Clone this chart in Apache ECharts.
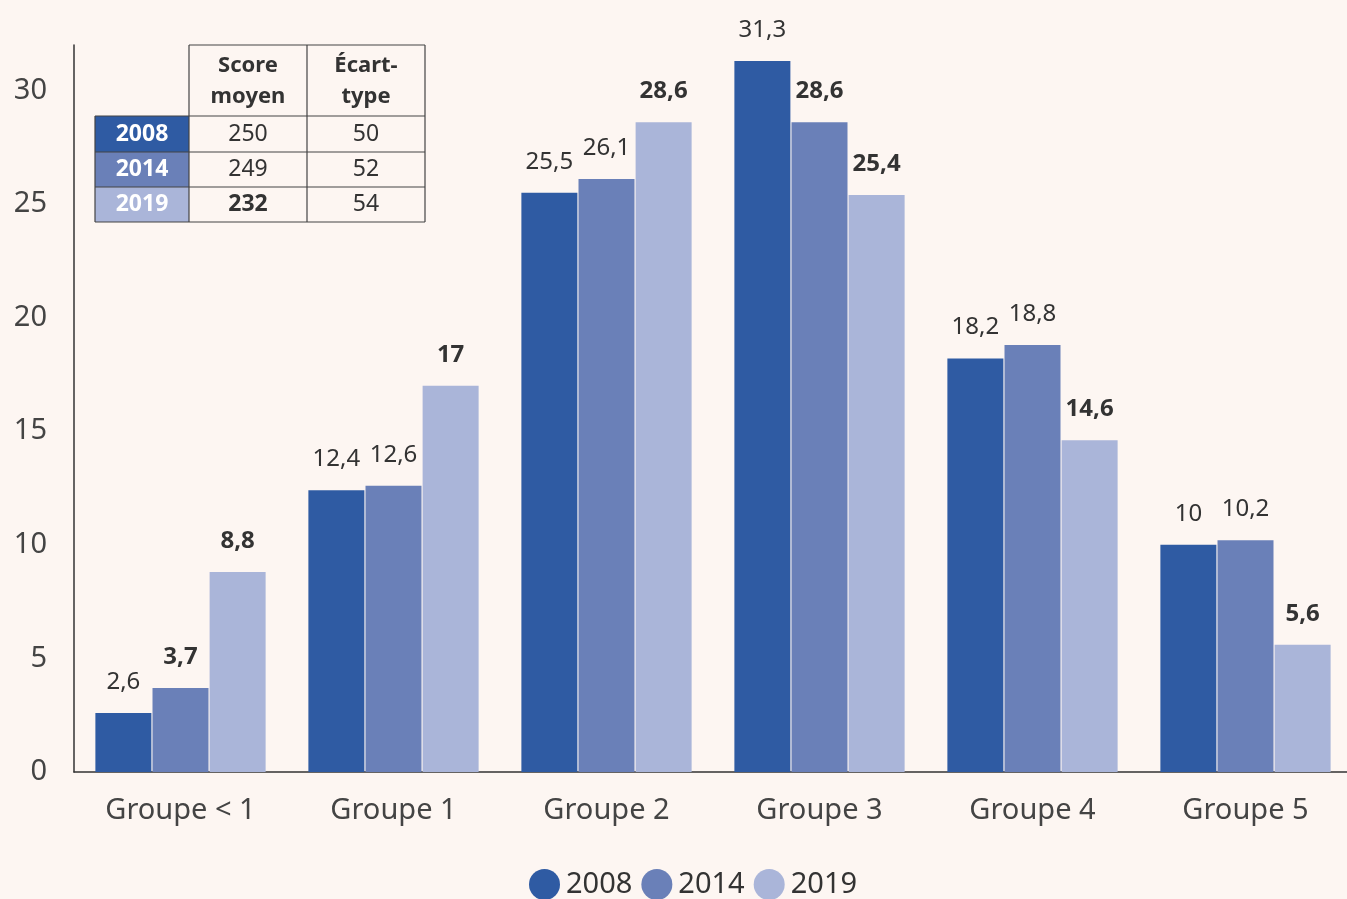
<!DOCTYPE html>
<html><head><meta charset="utf-8">
<script src="https://cdn.jsdelivr.net/npm/echarts@6/dist/echarts.min.js"></script>
<style>html,body{margin:0;padding:0;background:#fdf6f2;}#c{width:1347px;height:899px;}</style>
</head><body><div id="c"></div>
<script>
const categories = ['Groupe < 1', 'Groupe 1', 'Groupe 2', 'Groupe 3', 'Groupe 4', 'Groupe 5'];
const years = ['2008', '2014', '2019'];
const values2008 = [2.6, 12.4, 25.5, 31.3, 18.2, 10];
const values2014 = [3.7, 12.6, 26.1, 28.6, 18.8, 10.2];
const values2019 = [8.8, 17, 28.6, 25.4, 14.6, 5.6];
const bold2008 = [false, false, false, false, false, false];
const bold2014 = [true, false, false, true, false, false];
const bold2019 = [true, true, true, true, true, true];
const yTicks = [0, 5, 10, 15, 20, 25, 30];
const tableHeader = ['Score\nmoyen', 'Écart-\ntype'];
const tableYears = ['2008', '2014', '2019'];
const tableScore = [250, 249, 232];
const tableSd = [50, 52, 54];
const tableScoreBold = [false, false, true];

const colors = ['#2f5ba3', '#6a80b8', '#aab5d9'];
const textColor = '#333333';
const font = 'Noto Sans';

function fmt(v) { return String(v).replace('.', ','); }
function mk(vals, bold) {
  return vals.map((v, i) => ({ value: v, label: { fontWeight: bold[i] ? 'bold' : 'normal' } }));
}
const seriesVals = [values2008, values2014, values2019];
const seriesBold = [bold2008, bold2014, bold2019];

const chart = echarts.init(document.getElementById('c'));

// table graphic
const tx = [95, 189, 307, 425];
const ty = [45, 116, 152, 187, 222];
const g = [];
const lineStyle = { stroke: '#444', lineWidth: 1.2 };
for (let c = 0; c < 2; c++) {
  g.push({ type: 'text', x: (tx[c + 1] + tx[c + 2]) / 2, y: (ty[0] + ty[1]) / 2 + 1,
    style: { text: tableHeader[c], fill: textColor, font: 'bold 22px ' + font, align: 'center', verticalAlign: 'middle', lineHeight: 31 } });
}
for (let r = 0; r < 3; r++) {
  g.push({ type: 'rect', shape: { x: tx[0], y: ty[r + 1], width: tx[1] - tx[0], height: ty[r + 2] - ty[r + 1] }, style: { fill: colors[r] } });
  g.push({ type: 'text', x: (tx[0] + tx[1]) / 2, y: (ty[r + 1] + ty[r + 2]) / 2,
    style: { text: tableYears[r], fill: '#ffffff', font: 'bold 23px ' + font, align: 'center', verticalAlign: 'middle' } });
  g.push({ type: 'text', x: (tx[1] + tx[2]) / 2, y: (ty[r + 1] + ty[r + 2]) / 2,
    style: { text: String(tableScore[r]), fill: textColor, font: (tableScoreBold[r] ? 'bold ' : '') + '23px ' + font, align: 'center', verticalAlign: 'middle' } });
  g.push({ type: 'text', x: (tx[2] + tx[3]) / 2, y: (ty[r + 1] + ty[r + 2]) / 2,
    style: { text: String(tableSd[r]), fill: textColor, font: '23px ' + font, align: 'center', verticalAlign: 'middle' } });
}
g.push({ type: 'line', shape: { x1: tx[1], y1: ty[0], x2: tx[3], y2: ty[0] }, style: lineStyle });
for (let r = 1; r < 5; r++) g.push({ type: 'line', shape: { x1: tx[0], y1: ty[r], x2: tx[3], y2: ty[r] }, style: lineStyle });
g.push({ type: 'line', shape: { x1: tx[0], y1: ty[1], x2: tx[0], y2: ty[4] }, style: lineStyle });
for (let c = 1; c < 4; c++) g.push({ type: 'line', shape: { x1: tx[c], y1: ty[0], x2: tx[c], y2: ty[4] }, style: lineStyle });

chart.setOption({
  backgroundColor: '#fdf6f2',
  textStyle: { fontFamily: font },
  color: colors,
  grid: { left: 74, width: 1278, top: 45, bottom: 127, containLabel: false, outerBoundsMode: 'none' },
  legend: {
    data: years, bottom: -6, left: 524, icon: 'circle', itemWidth: 31, itemHeight: 31, itemGap: 9,
    textStyle: { fontSize: 29, color: textColor, padding: [0, 0, 0, 1] }
  },
  xAxis: {
    type: 'category', data: categories,
    axisLine: { lineStyle: { color: '#333', width: 1.5 } },
    axisTick: { show: false },
    axisLabel: { fontSize: 29, color: '#444', margin: 24 }
  },
  yAxis: {
    type: 'value', min: yTicks[0], max: 32, interval: 5,
    axisLine: { show: true, lineStyle: { color: '#333', width: 1.5 } },
    axisTick: { show: false },
    splitLine: { show: false },
    axisLabel: { fontSize: 29, color: '#444', margin: 27, showMaxLabel: false,
      formatter: v => yTicks.indexOf(v) >= 0 ? String(v) : '' }
  },
  series: years.map((y, i) => ({
    name: y, type: 'bar', barWidth: 56, barGap: '2%',
    data: mk(seriesVals[i], seriesBold[i]),
    label: { show: true, position: 'top', distance: 19, fontSize: 24, color: textColor, formatter: p => fmt(p.value) }
  })),
  graphic: g
});
</script></body></html>
